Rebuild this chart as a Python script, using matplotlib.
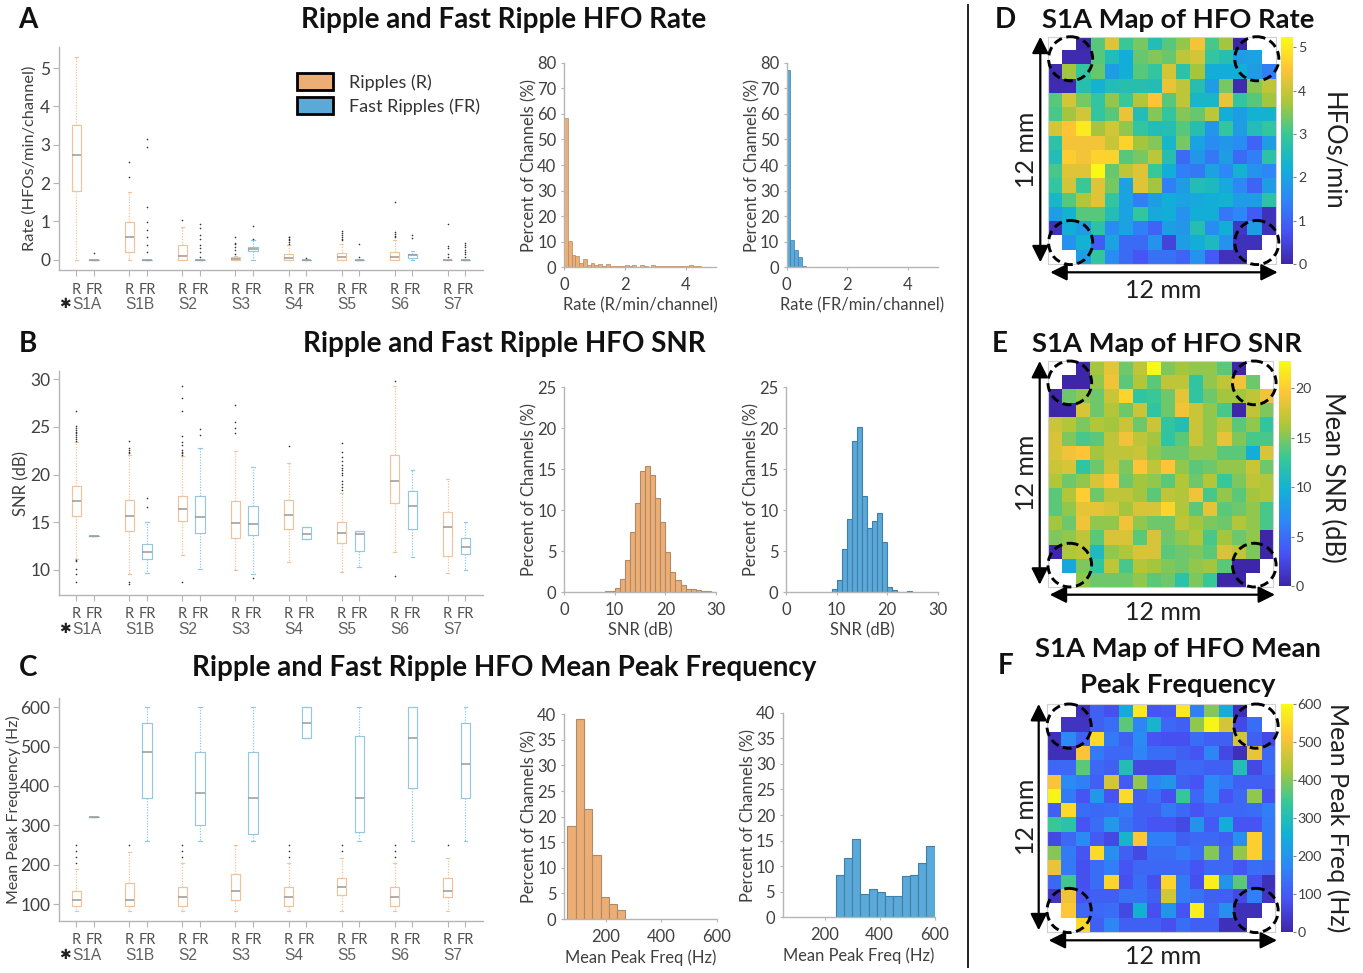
"""Ripple and fast ripple HFO summary figure: boxplots, histograms and S1A array maps."""

import matplotlib

matplotlib.use("Agg")
import matplotlib.pyplot as plt
import numpy as np
from matplotlib.colors import LinearSegmentedColormap
from matplotlib.patches import Circle, Patch

WIDTH, HEIGHT = 1363, 973
INK = "#404040"
SPINE = "#b5b5b5"
ORANGE = "#edae76"
ORANGE_EDGE = "#b08a66"
ORANGE_LINE = "#f0c39c"
BLUE = "#5ba9d8"
BLUE_EDGE = "#3f7fa8"
BLUE_LINE = "#93c8e4"
N = np.nan

SUBJECTS = ["S1A", "S1B", "S2", "S3", "S4", "S5", "S6", "S7"]

# (q1, median, q3, whisker low, whisker high, fliers), R then FR for each subject
RATE_R = [
    (1.8, 2.74, 3.52, 0, 5.3, []),
    (0.2, 0.59, 0.98, 0, 1.77, [2.16, 2.55]),
    (0, 0.09, 0.37, 0, 0.84, [1.03]),
    (0, 0.02, 0.06, 0, 0.1, [0.15, 0.25, 0.33, 0.4, 0.44, 0.6]),
    (0, 0.05, 0.16, 0, 0.37, [0.42, 0.46, 0.5, 0.54, 0.58, 0.6]),
    (0, 0.08, 0.17, 0, 0.41, [0.5, 0.55, 0.6, 0.65, 0.7, 0.75]),
    (0, 0.07, 0.21, 0, 0.5, [0.58, 0.63, 0.68, 0.72, 1.5]),
    (0, 0, 0, 0, 0, [0.08, 0.16, 0.3, 0.35, 0.92]),
]
RATE_FR = [
    (0, 0, 0, 0, 0, [0.18]),
    (0, 0, 0, 0, 0, [0.2, 0.38, 0.6, 0.78, 0.98, 1.38, 2.95, 3.15]),
    (0, 0, 0, 0, 0, [0.08, 0.2, 0.3, 0.38, 0.55, 0.65, 0.83, 0.92]),
    (0.22, 0.27, 0.32, 0.0, 0.5, [0.55, 0.88]),
    (0, 0, 0, 0, 0, [0.05]),
    (0, 0, 0, 0, 0, [0.07, 0.41]),
    (0.05, 0.12, 0.15, 0, 0.22, [0.57, 0.65]),
    (0, 0, 0, 0, 0, [0.08, 0.14, 0.2, 0.26, 0.32, 0.38, 0.43]),
]
SNR_R = [
    (15.7, 17.2, 18.8, 11.2, 23.4, [8.7, 9.6, 10.1, 10.9, 11.0, 23.5, 23.7, 23.9, 24.1, 24.3, 24.5, 24.7, 24.9, 25.1, 26.6]),
    (14.1, 15.7, 17.3, 9.6, 22.0, [8.5, 8.7, 22.2, 22.4, 22.6, 22.8, 23.5]),
    (15.1, 16.4, 17.8, 11.6, 21.9, [8.7, 22.0, 22.2, 22.4, 22.6, 23.1, 23.4, 24.0, 26.7, 28.0, 29.3]),
    (13.4, 14.9, 17.2, 10.0, 22.5, [24.3, 24.9, 25.5, 27.3]),
    (14.3, 15.8, 17.3, 10.8, 21.2, [23.0]),
    (12.8, 13.9, 15.0, 9.8, 18.1, [18.4, 18.7, 19.0, 19.3, 20.0, 20.2, 20.5, 20.7, 21.0, 21.4, 21.8, 22.4, 23.3]),
    (17.0, 19.3, 22.0, 11.9, 29.3, [9.4, 29.8]),
    (11.5, 14.5, 16.1, 9.7, 19.55, []),
]
SNR_FR = [
    (13.55, 13.55, 13.55, 13.55, 13.55, []),
    (11.1, 11.9, 12.7, 9.7, 15.05, [16.6, 17.5]),
    (13.9, 15.5, 17.7, 10.1, 22.8, [24.1, 24.8]),
    (13.7, 14.8, 16.7, 9.6, 20.8, [9.2]),
    (13.2, 13.8, 14.5, 13.2, 14.5, []),
    (12.0, 13.75, 14.1, 10.3, 14.1, []),
    (14.25, 16.65, 18.3, 11.4, 20.5, []),
    (11.7, 12.4, 13.3, 10.0, 15.0, []),
]
FREQ_R = [
    (95, 109, 134, 83, 188, [205, 220, 235, 250]),
    (95, 109, 153, 83, 233, [250]),
    (95, 117, 143, 83, 204, [220, 235, 250]),
    (109, 134, 176, 83, 250, []),
    (95, 117, 143, 83, 204, [220, 235, 250]),
    (122, 143, 165, 83, 218, [235, 250]),
    (95, 117, 143, 83, 204, [220, 235, 250]),
    (117, 134, 165, 83, 218, [250]),
]
FREQ_FR = [
    (320, 320, 320, 320, 320, []),
    (369, 487, 560, 260, 600, []),
    (300, 383, 487, 260, 600, []),
    (279, 369, 487, 260, 600, []),
    (522, 560, 600, 522, 600, []),
    (284, 369, 527, 260, 600, []),
    (396, 522, 600, 260, 600, []),
    (369, 455, 560, 260, 600, []),
]

RATE_HIST_R = [58.5, 10.3, 4.8, 4.4, 1.8, 3.2, 0.8, 1.7, 0.8, 1.3, 0.7, 1.2, 0.6, 0.5, 0.4, 0.5, 0.9, 0.6, 0.8, 0.3,
               0.9, 0.6, 0.3, 0.9, 0.7, 0.5, 0.7, 0.5, 0.5, 0.4, 0.5, 0.4, 0.7, 0.9, 0.4, 0.4, 0.2, 0.1, 0.2, 0.1]
RATE_HIST_FR = [77, 10.7, 6.6, 4, 0.6, 0.3, 0.15, 0.1, 0.1, 0.05, 0.02, 0.05, 0.02, 0, 0, 0, 0, 0, 0, 0,
                0, 0, 0, 0, 0.02, 0.02, 0, 0, 0, 0, 0, 0, 0, 0, 0, 0, 0, 0, 0, 0]
RATE_EDGES = np.arange(0, 5.0, 0.125)
SNR_HIST_R = [0.1, 0.15, 0.5, 1.6, 4, 7.3, 10.9, 14.8, 15.4, 14.3, 11.5, 8.6, 4.9, 2.5, 1.5, 0.9, 0.45, 0.4, 0.3, 0.2, 0.1, 0.07]
SNR_EDGES_R = np.arange(8, 30)
SNR_HIST_FR = [0.4, 1.5, 5.3, 9, 18.4, 20.2, 11.7, 7.9, 8.7, 9.7, 6.1, 0.7, 0.3, 0.05, 0.05, 0.15]
SNR_EDGES_FR = np.arange(9, 25)
FREQ_HIST_R = [18.1, 39, 21.4, 12.5, 4.3, 2.9, 1.7]
FREQ_EDGES_R = np.arange(60, 270, 30)
FREQ_HIST_FR = [8.3, 11.5, 15.3, 4.6, 5.5, 5, 4.2, 4.2, 8.1, 8.3, 10.7, 13.9]
FREQ_EDGES_FR = np.arange(240, 600, 30)

MAP_RATE = [
    [N, N, 0, 3.2, 4.2, 3.0, 3.4, 2.6, 3.2, 3.6, 4.4, 3.1, 3.7, 0, N, N],
    [N, 0.1, 0.1, 3.2, 2.6, 2.2, 3.3, 3.5, 3.3, 3.9, 4.1, 2.9, 2.7, 1.9, 2.0, N],
    [0.1, 3.7, 2.9, 3.3, 1.9, 2.2, 3.2, 2.9, 4.1, 2.8, 3.7, 2.2, 2.2, 2.2, 1.9, 1.4],
    [0.1, 0.1, 2.7, 2.3, 2.6, 2.7, 2.7, 2.6, 4.3, 3.9, 2.7, 1.9, 3.4, 0.1, 3.5, 3.9],
    [3.2, 4.1, 3.4, 2.9, 3.6, 3.0, 3.8, 4.5, 3.2, 3.9, 2.4, 2.4, 4.3, 2.9, 3.2, 3.7],
    [3.1, 3.7, 4.1, 2.9, 3.2, 4.3, 2.6, 3.5, 2.9, 3.5, 3.3, 3.9, 2.2, 1.9, 2.3, 2.3],
    [4.1, 4.5, 5.0, 3.7, 4.1, 3.6, 2.9, 2.6, 2.7, 3.2, 2.7, 1.8, 2.9, 1.9, 2.6, 2.9],
    [2.8, 4.4, 4.4, 4.4, 4.0, 4.7, 3.7, 3.5, 2.4, 3.4, 2.0, 1.6, 1.8, 1.6, 1.0, 1.9],
    [2.6, 4.6, 4.4, 4.7, 4.7, 3.2, 3.4, 3.9, 2.7, 1.1, 1.8, 1.3, 1.9, 1.1, 1.4, 2.8],
    [3.1, 4.2, 4.2, 5.2, 3.3, 3.9, 4.2, 3.0, 2.2, 1.4, 1.3, 2.0, 1.5, 2.3, 1.7, 1.5],
    [2.9, 4.1, 3.0, 4.2, 3.4, 2.0, 4.2, 3.7, 1.4, 1.9, 2.6, 2.5, 2.1, 1.5, 1.0, 1.9],
    [2.4, 3.2, 3.8, 4.2, 2.9, 2.0, 1.4, 1.9, 2.2, 2.0, 2.1, 2.2, 2.3, 1.9, 1.9, 2.8],
    [1.9, 2.3, 3.2, 3.2, 2.6, 2.0, 2.9, 2.1, 2.2, 1.7, 2.2, 2.2, 1.3, 1.5, 0.9, 0.2],
    [0.2, 2.2, 1.9, 2.8, 1.6, 2.0, 1.4, 1.0, 1.9, 1.8, 2.7, 1.6, 2.2, 0.3, 1.9, 0.2],
    [N, 1.7, 2.3, 0.9, 2.0, 1.1, 1.1, 1.7, 0.5, 1.9, 2.2, 2.5, 1.7, 0.2, 0.2, N],
    [N, N, 1.9, 2.9, 1.6, 1.1, 0.8, 1.2, 1.2, 1.0, 1.7, 0.9, 0.2, 0.2, N, N],
]
MAP_SNR = [
    [N, N, 0, 16, 18.5, 14.5, 17, 22.7, 15, 16, 15.5, 15.5, 14, 0, N, N],
    [N, 0, 0, 15.5, 19, 14, 16.5, 14, 17, 17, 12.5, 15.5, 17, 19, 14.5, N],
    [0, 14.5, 15.5, 14.5, 17.5, 20.5, 12.5, 13, 14.5, 18.5, 12.5, 14.5, 16, 16, 17, 19],
    [0, 0, 18, 14.5, 16.5, 14.5, 17.5, 12.5, 14.5, 19, 17.5, 15.5, 13.5, 0, 17, 15],
    [17.5, 16.5, 15, 16.5, 16, 17.5, 14.5, 17.5, 12.5, 11.5, 17.5, 15.5, 17, 14, 15.5, 12.5],
    [18, 15, 13.5, 14, 17, 19, 17, 16, 12.5, 14, 17.5, 15.5, 18.5, 15, 13.5, 13.5],
    [18, 19, 19.5, 16, 17, 17, 17.5, 15.5, 14.5, 14.5, 15.5, 15.5, 14, 14, 9.5, 18],
    [17.5, 18, 12.5, 14.5, 17.5, 15, 19.5, 17, 19.5, 15.5, 14, 14.5, 15.5, 15.5, 17.5, 14.5],
    [16.5, 14.5, 15.5, 18, 19.5, 14.5, 16, 15.5, 14, 16.5, 14.5, 16.5, 13, 15, 17, 16.5],
    [14, 16.5, 20, 14.5, 17, 17, 16, 14, 17, 16.5, 19, 13.5, 15.5, 14, 16, 16.5],
    [14, 15.5, 18.5, 18.5, 18, 16, 18, 18, 20.5, 16.5, 14, 18.5, 14, 14.5, 15.5, 13.5],
    [16, 14.5, 19, 15.5, 15.5, 19, 15.5, 14.5, 14.5, 17, 16, 15, 14.5, 16.5, 15.5, 13.5],
    [15, 15.5, 17, 14, 18, 18, 14, 18, 14.5, 15.5, 16.5, 13.5, 16, 14.5, 15.5, 0],
    [0, 16.5, 17, 11, 15.5, 16.5, 18, 18, 14, 14.5, 15, 14, 18, 17, 15, 0],
    [N, 9, 15, 12.5, 17, 13.5, 16.5, 16, 15, 14.5, 15.5, 16, 14, 0, 0, N],
    [N, N, 15.5, 14.5, 14.5, 14.5, 15.5, 14, 14.5, 12, 15, 13, 0, 0, N, N],
]
MAP_FREQ = [
    [N, N, 20, 110, 80, 240, 570, 90, 100, 570, 160, 400, 250, 20, N, N],
    [N, 30, 30, 110, 130, 370, 170, 270, 120, 110, 410, 590, 470, 70, 130, N],
    [20, 180, 110, 550, 150, 110, 180, 90, 80, 80, 130, 110, 110, 470, 110, 70],
    [20, 20, 510, 150, 120, 120, 170, 130, 130, 110, 90, 170, 70, 20, 490, 120],
    [120, 120, 370, 120, 110, 300, 70, 70, 70, 120, 120, 110, 110, 300, 70, 130],
    [510, 180, 160, 110, 470, 100, 410, 170, 200, 110, 90, 180, 150, 110, 110, 110],
    [590, 150, 90, 210, 90, 550, 110, 130, 80, 340, 120, 180, 90, 120, 410, 80],
    [110, 550, 130, 120, 130, 150, 110, 110, 150, 120, 90, 120, 120, 120, 130, 160],
    [340, 320, 90, 130, 210, 140, 110, 90, 90, 70, 200, 100, 250, 90, 90, 150],
    [70, 120, 180, 100, 70, 270, 520, 160, 160, 110, 120, 120, 110, 190, 530, 150],
    [400, 150, 90, 550, 190, 110, 70, 130, 130, 150, 130, 400, 120, 410, 530, 150],
    [490, 150, 80, 130, 160, 90, 120, 120, 120, 120, 90, 120, 120, 90, 130, 120],
    [120, 350, 80, 130, 540, 80, 130, 80, 540, 150, 80, 580, 200, 370, 80, 20],
    [30, 500, 90, 110, 110, 140, 140, 110, 470, 150, 140, 110, 110, 70, 160, 30],
    [N, 520, 120, 120, 130, 70, 260, 80, 200, 90, 580, 120, 190, 20, 20, N],
    [N, N, 550, 110, 170, 110, 110, 110, 80, 130, 110, 110, 20, 20, N, N],
]

PARULA = LinearSegmentedColormap.from_list("parula", [
    (0.2422, 0.1504, 0.6603), (0.2810, 0.3228, 0.9579), (0.1786, 0.5289, 0.9682), (0.0689, 0.6948, 0.8394),
    (0.2161, 0.7843, 0.5923), (0.6720, 0.7793, 0.2227), (0.9970, 0.7659, 0.2199), (0.9769, 0.9839, 0.0805),
])
PARULA.set_bad("white")

plt.rcParams.update({
    "font.family": ["Lato", "DejaVu Sans"],
    "text.color": INK,
    "axes.labelcolor": INK,
    "axes.edgecolor": SPINE,
    "xtick.color": SPINE,
    "ytick.color": SPINE,
    "xtick.labelcolor": INK,
    "ytick.labelcolor": INK,
})


def add_axes(fig, left, top, right, bottom):
    # rectangle given in picture pixels, y measured from the top
    return fig.add_axes([left / WIDTH, 1 - bottom / HEIGHT, (right - left) / WIDTH, (bottom - top) / HEIGHT])


def px(x, y):
    return x / WIDTH, 1 - y / HEIGHT


def clean_spines(ax):
    ax.spines[["top", "right"]].set_visible(False)
    ax.spines[["left", "bottom"]].set_linewidth(1.0)


def box_stats(rows):
    return [{"q1": r[0], "med": r[1], "q3": r[2], "whislo": r[3], "whishi": r[4], "fliers": r[5]} for r in rows]


def draw_boxes(ax, rows, positions, colour):
    ax.bxp(box_stats(rows), positions=positions, widths=0.53, manage_ticks=False, capwidths=0.2,
           boxprops={"color": colour, "linewidth": 0.85},
           medianprops={"color": "#999999", "linewidth": 1.1, "zorder": 4},
           whiskerprops={"color": colour, "linewidth": 0.9, "linestyle": (0, (1, 1.2))},
           capprops={"color": colour, "linewidth": 0.85},
           flierprops={"marker": "o", "markersize": 0.9, "markerfacecolor": "#303030",
                       "markeredgecolor": "#303030", "markeredgewidth": 0.2})


def box_panel(fig, top, bottom, ylim, yticks, ylabel, label_x, r_rows, fr_rows, label_size=11.8):
    ax = add_axes(fig, 58.7, top, 483, bottom)
    positions_r = [3 * i + 1 for i in range(len(SUBJECTS))]
    positions_fr = [3 * i + 2 for i in range(len(SUBJECTS))]
    draw_boxes(ax, r_rows, positions_r, ORANGE_LINE)
    draw_boxes(ax, fr_rows, positions_fr, BLUE_LINE)
    ax.set_xlim(0, 24)
    ax.set_ylim(*ylim)
    ax.set_yticks(yticks)
    ax.tick_params(axis="y", labelsize=12.5, length=4, pad=2)
    ax.set_xticks(positions_r + positions_fr, ["R"] * 8 + ["FR"] * 8)
    ax.tick_params(axis="x", labelsize=10.5, length=4, pad=5, labelcolor="#505050")
    ax.set_ylabel(ylabel, fontsize=label_size)
    ax.yaxis.set_label_coords((label_x + 9 - 58.7) / (483 - 58.7), 0.5)
    clean_spines(ax)
    for pos, name in zip(positions_r, SUBJECTS):
        ax.annotate(name, xy=(pos, 0), xycoords=("data", "axes fraction"), xytext=(-3.3, -24.8),
                    textcoords="offset points", ha="left", va="center", fontsize=11.2,
                    family="Liberation Sans", color="#606060")
    ax.annotate("✱", xy=(1, 0), xycoords=("data", "axes fraction"), xytext=(-8, -24.8),
                textcoords="offset points", ha="center", va="center", fontsize=10,
                family="DejaVu Sans", color="#202020")
    return ax


def hist_panel(fig, rect, starts, heights, width, colour, edge, xlim, xticks, ylim, yticks, xlabel, lw=0.8):
    ax = add_axes(fig, *rect)
    ax.bar(starts, heights, width=width, align="edge", color=colour, edgecolor=edge, linewidth=lw)
    ax.set_xlim(*xlim)
    ax.set_ylim(*ylim)
    ax.set_xticks(xticks)
    ax.set_yticks(yticks)
    ax.tick_params(labelsize=12, length=2.5, pad=3)
    ax.tick_params(axis="x", pad=4.5)
    ax.set_xlabel(xlabel, fontsize=11.9, labelpad=3.3)
    ax.set_ylabel("Percent of Channels (%)", fontsize=11.9, labelpad=-0.5)
    clean_spines(ax)
    return ax


def arrow(fig, start, end):
    fig.add_artist(matplotlib.patches.FancyArrowPatch(
        px(*start), px(*end), transform=fig.transFigure, arrowstyle="<|-|>", mutation_scale=25,
        color="black", linewidth=1.6, shrinkA=0, shrinkB=0))


def map_panel(fig, rect, cbar_rect, values, vmax, ticks, label, label_y, text_y, label_x=1333, label_size=18.4):
    left, top, right, bottom = rect
    ax = add_axes(fig, *rect)
    image = ax.imshow(np.ma.masked_invalid(np.array(values, dtype=float)), cmap=PARULA, vmin=0, vmax=vmax,
                      aspect="auto", interpolation="nearest")
    ax.set_xticks([])
    ax.set_yticks([])
    for spine in ax.spines.values():
        spine.set_color("#d0d0d0")
    for cx, cy in [(1.07, 1.05), (14.17, 1.05), (1.07, 13.97), (14.17, 13.97)]:
        ax.add_patch(Circle((cx, cy), 1.55, fill=False, edgecolor="black", linewidth=2.1,
                            linestyle=(0, (3, 1.6)), clip_on=False, zorder=5))
    cax = add_axes(fig, *cbar_rect)
    bar = fig.colorbar(image, cax=cax)
    bar.outline.set_visible(False)
    bar.set_ticks(ticks)
    cax.tick_params(labelsize=10.2, length=2, pad=1.5, color="#808080")
    fig.text(*px(label_x, label_y), label, rotation=270, ha="center", va="center", fontsize=label_size, color="#202020")
    arrow(fig, (left - 8, top), (left - 8, bottom - 2))
    arrow(fig, (left + 2, bottom + 8), (right + 2, bottom + 8))
    fig.text(*px(1027, (top + bottom) / 2 - 1), "12 mm", rotation=90, ha="center", va="center", fontsize=18, color="#202020")
    fig.text(*px(1163, text_y), "12 mm", ha="center", va="center", fontsize=18, color="#202020")


def title(fig, x, y, text, size=20):
    fig.text(*px(x, y + 1), text, ha="center", va="center", fontsize=size, fontweight="bold", color="#111111")


def main():
    fig = plt.figure(figsize=(WIDTH / 100, HEIGHT / 100), dpi=100, facecolor="white")

    box_panel(fig, 47, 270, (-0.27, 5.55), [0, 1, 2, 3, 4, 5], "Rate (HFOs/min/channel)", 28, RATE_R, RATE_FR)
    box_panel(fig, 371, 595, (7.38, 30.84), [10, 15, 20, 25, 30], "SNR (dB)", 20, SNR_R, SNR_FR, label_size=12)
    box_panel(fig, 697.7, 921, (56.8, 624.4), [100, 200, 300, 400, 500, 600], "Mean Peak Frequency (Hz)", 12,
              FREQ_R, FREQ_FR, label_size=11.5)

    fig.legend(handles=[Patch(facecolor=ORANGE, edgecolor="black", linewidth=2),
                        Patch(facecolor=BLUE, edgecolor="black", linewidth=2)],
               labels=["Ripples (R)", "Fast Ripples (FR)"], loc="center left", bbox_to_anchor=px(281, 94),
               frameon=False, fontsize=13, handlelength=2.0, handleheight=1.05, labelspacing=0.37,
               handletextpad=0.85, labelcolor="#333333")

    rate_ticks = [0, 10, 20, 30, 40, 50, 60, 70, 80]
    hist_panel(fig, (564, 62.7, 716, 267.3), RATE_EDGES, RATE_HIST_R, 0.125, ORANGE, ORANGE_EDGE, (0, 5), [0, 2, 4],
               (0, 80), rate_ticks, "Rate (R/min/channel)", lw=0.5)
    hist_panel(fig, (786.7, 62.7, 938.3, 267.3), RATE_EDGES, RATE_HIST_FR, 0.125, BLUE, BLUE_EDGE, (0, 5), [0, 2, 4],
               (0, 80), rate_ticks, "Rate (FR/min/channel)", lw=0.5)
    snr_ticks = [0, 5, 10, 15, 20, 25]
    hist_panel(fig, (564, 387.3, 716, 592.3), SNR_EDGES_R, SNR_HIST_R, 1, ORANGE, ORANGE_EDGE, (0, 30), [0, 10, 20, 30],
               (0, 25), snr_ticks, "SNR (dB)")
    hist_panel(fig, (786, 387.3, 937.7, 592.3), SNR_EDGES_FR, SNR_HIST_FR, 1, BLUE, BLUE_EDGE, (0, 30), [0, 10, 20, 30],
               (0, 25), snr_ticks, "SNR (dB)")
    freq_ticks = [0, 5, 10, 15, 20, 25, 30, 35, 40]
    hist_panel(fig, (564, 714.3, 716.7, 919), FREQ_EDGES_R, FREQ_HIST_R, 30, ORANGE, ORANGE_EDGE, (48, 600), [200, 400, 600],
               (0, 40), freq_ticks, "Mean Peak Freq (Hz)")
    hist_panel(fig, (782.7, 712.7, 934.7, 917.3), FREQ_EDGES_FR, FREQ_HIST_FR, 30, BLUE, BLUE_EDGE, (48, 600), [200, 400, 600],
               (0, 40), freq_ticks, "Mean Peak Freq (Hz)")

    map_panel(fig, (1048.3, 36.7, 1275.7, 264.3), (1281, 37, 1293.3, 264), MAP_RATE, 5.24, [0, 1, 2, 3, 4, 5],
              "HFOs/min", 151, 290)
    map_panel(fig, (1047.7, 361, 1273, 586.7), (1279, 361, 1290.7, 586), MAP_SNR, 22.75, [0, 5, 10, 15, 20],
              "Mean SNR (dB)", 477, 613)
    map_panel(fig, (1046.7, 704, 1275, 932.3), (1280.7, 704, 1292.7, 932), MAP_FREQ, 600, [0, 100, 200, 300, 400, 500, 600],
              "Mean Peak Freq (Hz)", 818, 957, label_x=1338, label_size=18)

    title(fig, 504, 19, "Ripple and Fast Ripple HFO Rate")
    title(fig, 504, 343, "Ripple and Fast Ripple HFO SNR")
    title(fig, 504, 667, "Ripple and Fast Ripple HFO Mean Peak Frequency")
    title(fig, 1178, 19, "S1A Map of HFO Rate", size=19.7)
    title(fig, 1167, 343, "S1A Map of HFO SNR", size=19.7)
    title(fig, 1178, 648, "S1A Map of HFO Mean", size=19.7)
    title(fig, 1178, 684, "Peak Frequency", size=19.7)
    for x, y, letter in [(28, 19, "A"), (28, 343, "B"), (28, 667, "C"), (1005, 19, "D"), (1000, 343, "E"), (1006, 665, "F")]:
        title(fig, x, y, letter)

    fig.add_artist(plt.Line2D([968 / WIDTH] * 2, [1 - 5 / HEIGHT, 1 - 967 / HEIGHT], color="#222222", linewidth=1.4))

    fig.savefig("out.png", dpi=100)
    plt.close(fig)


if __name__ == "__main__":
    main()
